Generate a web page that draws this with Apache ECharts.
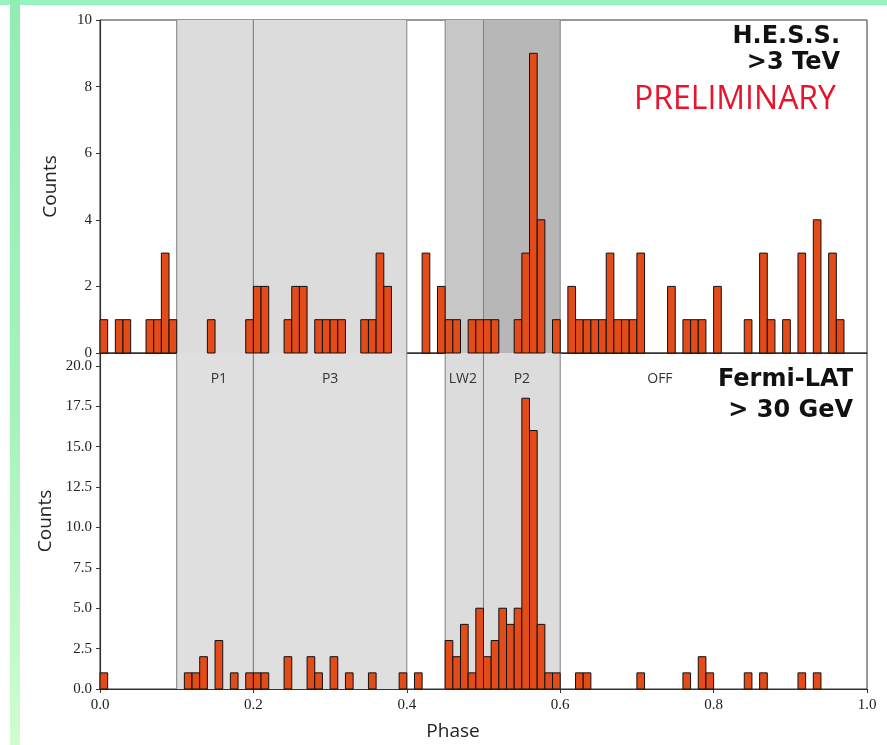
<!DOCTYPE html>
<html>
<head>
<meta charset="utf-8">
<title>Phase histograms</title>
<script src="https://cdn.jsdelivr.net/npm/echarts@6/dist/echarts.min.js"></script>
<style>
  html, body { margin: 0; padding: 0; background: #fff; }
  #chart { width: 887px; height: 745px; }
</style>
</head>
<body>
<div id="chart"></div>
<script>
// bin width of both histograms (phase units)
const binWidth = 0.01;

// H.E.S.S. > 3 TeV counts, bins 0.00 .. 0.99
const hessCounts = [
  1, 0, 1, 1, 0, 0, 1, 1, 3, 1,
  0, 0, 0, 0, 1, 0, 0, 0, 0, 1,
  2, 2, 0, 0, 1, 2, 2, 0, 1, 1,
  1, 1, 0, 0, 1, 1, 3, 2, 0, 0,
  0, 0, 3, 0, 2, 1, 1, 0, 1, 1,
  1, 1, 0, 0, 1, 3, 9, 4, 0, 1,
  0, 2, 1, 1, 1, 1, 3, 1, 1, 1,
  3, 0, 0, 0, 2, 0, 1, 1, 1, 0,
  2, 0, 0, 0, 1, 0, 3, 1, 0, 1,
  0, 3, 0, 4, 0, 3, 1, 0, 0, 0
];

// Fermi-LAT > 30 GeV counts, bins 0.00 .. 0.99
const fermiCounts = [
  1, 0, 0, 0, 0, 0, 0, 0, 0, 0,
  0, 1, 1, 2, 0, 3, 0, 1, 0, 1,
  1, 1, 0, 0, 2, 0, 0, 2, 1, 0,
  2, 0, 1, 0, 0, 1, 0, 0, 0, 1,
  0, 1, 0, 0, 0, 3, 2, 4, 1, 5,
  2, 3, 5, 4, 5, 18, 16, 4, 1, 1,
  0, 0, 1, 1, 0, 0, 0, 0, 0, 0,
  1, 0, 0, 0, 0, 0, 1, 0, 2, 1,
  0, 0, 0, 0, 1, 0, 1, 0, 0, 0,
  0, 1, 0, 1, 0, 0, 0, 0, 0, 0
];

// phase intervals
const spanNames = ['P1', 'P3', 'LW2', 'P2'];
const spanStart = [0.10, 0.20, 0.45, 0.50];
const spanEnd = [0.20, 0.40, 0.50, 0.60];
const spanColorTop = ['#dcdcdc', '#dcdcdc', '#c7c7c7', '#b7b7b7'];
const spanColorBottom = ['#dfdfdf', '#dfdfdf', '#dcdcdc', '#dcdcdc'];

// interval labels in the lower panel
const regionLabels = ['P1', 'P3', 'LW2', 'P2', 'OFF'];
const regionLabelX = [0.155, 0.30, 0.473, 0.55, 0.73];

const toSeriesData = counts => counts.map((c, i) => [i * binWidth, c]);
const spanData = spanNames.map((n, i) => [spanStart[i], spanEnd[i], i]);

const barColor = '#e34b19';
const axisColor = '#333';
const serif = '"Liberation Serif", "DejaVu Serif", serif';
const sans = '"Open Sans", "DejaVu Sans", sans-serif';

const renderBar = (params, api) => {
  const x0 = api.value(0);
  const h = api.value(1);
  if (!h) return null;
  const p0 = api.coord([x0, h]);
  const p1 = api.coord([x0 + binWidth, 0]);
  return {
    type: 'rect',
    shape: { x: p0[0], y: p0[1], width: p1[0] - p0[0], height: p1[1] - p0[1] },
    style: { fill: barColor, stroke: '#111', lineWidth: 1 }
  };
};

// shaded phase intervals with thin edge lines, full height of the panel
const renderSpan = colors => (params, api) => {
  const cs = params.coordSys;
  const a = api.coord([api.value(0), 0])[0];
  const b = api.coord([api.value(1), 0])[0];
  const edge = { stroke: '#808080', lineWidth: 1 };
  return {
    type: 'group',
    children: [
      { type: 'rect', shape: { x: a, y: cs.y, width: b - a, height: cs.height }, style: { fill: colors[api.value(2)] } },
      { type: 'line', shape: { x1: a, y1: cs.y, x2: a, y2: cs.y + cs.height }, style: edge },
      { type: 'line', shape: { x1: b, y1: cs.y, x2: b, y2: cs.y + cs.height }, style: edge }
    ]
  };
};

const xAxisBase = idx => ({
  type: 'value',
  gridIndex: idx,
  min: 0,
  max: 1,
  interval: 0.2,
  axisLine: { show: true, lineStyle: { color: axisColor, width: 1.2 } },
  axisTick: { show: idx === 1, length: 4, lineStyle: { color: axisColor } },
  axisLabel: {
    show: idx === 1,
    margin: 9,
    color: '#222',
    fontFamily: serif,
    fontSize: 15,
    formatter: v => v.toFixed(1)
  },
  splitLine: { show: false }
});

const yAxisBase = (idx, max, interval, fmt) => ({
  type: 'value',
  gridIndex: idx,
  min: 0,
  max: max,
  interval: interval,
  name: 'Counts',
  nameLocation: 'middle',
  nameGap: 40,
  nameTextStyle: { fontFamily: sans, fontSize: 19, color: '#222' },
  axisLine: { show: true, lineStyle: { color: axisColor, width: 1.2 } },
  axisTick: { show: true, length: 4, lineStyle: { color: axisColor } },
  axisLabel: { margin: 8, color: '#222', fontFamily: serif, fontSize: 15, showMaxLabel: idx === 0, formatter: fmt },
  splitLine: { show: false }
});

const chart = echarts.init(document.getElementById('chart'), null, { renderer: 'canvas' });

chart.setOption({
  backgroundColor: '#fff',
  animation: false,
  grid: [
    { left: 100, right: 20, top: 20, height: 333, show: true, borderColor: axisColor, borderWidth: 1, outerBoundsMode: 'none' },
    { left: 100, right: 20, top: 353, height: 336, show: true, borderColor: axisColor, borderWidth: 1, outerBoundsMode: 'none' }
  ],
  xAxis: [xAxisBase(0), xAxisBase(1)],
  yAxis: [
    yAxisBase(0, 10, 2, v => String(v)),
    yAxisBase(1, 20.8, 2.5, v => v.toFixed(1))
  ],
  series: [
    {
      type: 'custom', xAxisIndex: 0, yAxisIndex: 0, z: 1, silent: true,
      renderItem: renderSpan(spanColorTop), encode: { x: [0, 1] }, data: spanData
    },
    {
      type: 'custom', xAxisIndex: 1, yAxisIndex: 1, z: 1, silent: true,
      renderItem: renderSpan(spanColorBottom), encode: { x: [0, 1] }, data: spanData
    },
    {
      name: 'H.E.S.S.', type: 'custom', xAxisIndex: 0, yAxisIndex: 0, z: 3, silent: true,
      renderItem: renderBar, encode: { x: 0, y: 1 }, data: toSeriesData(hessCounts)
    },
    {
      name: 'Fermi-LAT', type: 'custom', xAxisIndex: 1, yAxisIndex: 1, z: 3, silent: true,
      renderItem: renderBar, encode: { x: 0, y: 1 }, data: toSeriesData(fermiCounts)
    }
  ]
});

// texts placed after the scales exist
const labelEls = regionLabels.map((t, i) => {
  const p = chart.convertToPixel({ gridIndex: 1 }, [regionLabelX[i], 19.2]);
  return {
    type: 'text', x: p[0], y: p[1], z: 10,
    style: { text: t, fontFamily: sans, fontSize: 14, fill: '#333', align: 'center', verticalAlign: 'middle' }
  };
});

const titleText = (text, x, y, size, weight, color, family) => ({
  type: 'text', x, y, z: 10,
  style: { text, fontFamily: family, fontSize: size, fontWeight: weight, fill: color, align: 'right', verticalAlign: 'middle' }
});

const boldSans = '"DejaVu Sans", sans-serif';

chart.setOption({
  graphic: [
    // green frame
    { type: 'rect', shape: { x: 0, y: 0, width: 887, height: 5 }, style: { fill: '#97f3bf' }, z: 20 },
    {
      type: 'rect', shape: { x: 10, y: 0, width: 10, height: 745 }, z: 20,
      style: {
        fill: new echarts.graphic.LinearGradient(0, 0, 0, 1, [
          { offset: 0, color: '#93ecb4' },
          { offset: 0.55, color: '#a6f2bc' },
          { offset: 1, color: '#cffdd0' }
        ])
      }
    },
    titleText('H.E.S.S.', 840, 37, 24, 'bold', '#111', boldSans),
    titleText('>3 TeV', 840, 63, 24, 'bold', '#111', boldSans),
    titleText('PRELIMINARY', 836, 100, 32, 'normal', '#e8142c', sans),
    titleText('Fermi-LAT', 853, 380, 24, 'bold', '#111', boldSans),
    titleText('> 30 GeV', 853, 411, 24, 'bold', '#111', boldSans),
    {
      type: 'text', x: 453, y: 732, z: 10,
      style: { text: 'Phase', fontFamily: sans, fontSize: 19, fill: '#222', align: 'center', verticalAlign: 'middle' }
    }
  ].concat(labelEls)
});
</script>
</body>
</html>
